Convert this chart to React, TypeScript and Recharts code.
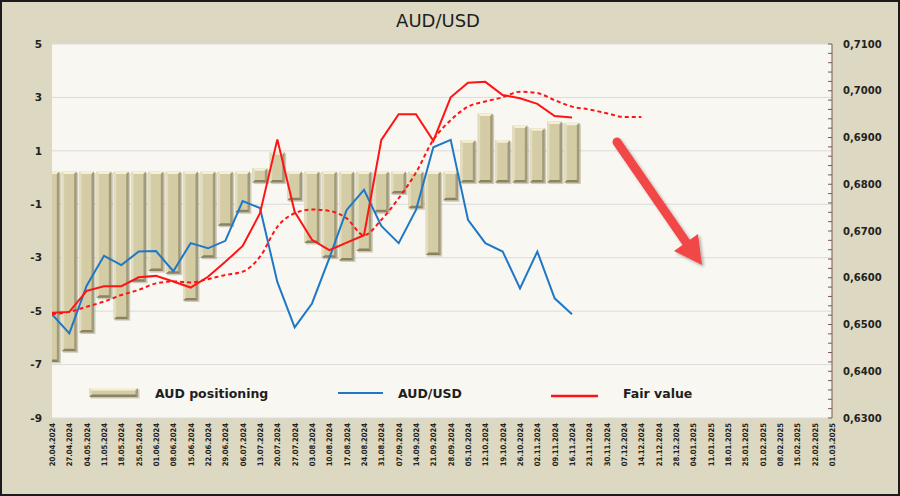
import { ComposedChart, Bar, Line, XAxis, YAxis, CartesianGrid } from 'recharts'

// weekly dates on the category axis
const dates = [
  '20.04.2024', '27.04.2024', '04.05.2024', '11.05.2024', '18.05.2024', '25.05.2024',
  '01.06.2024', '08.06.2024', '15.06.2024', '22.06.2024', '29.06.2024', '06.07.2024',
  '13.07.2024', '20.07.2024', '27.07.2024', '03.08.2024', '10.08.2024', '17.08.2024',
  '24.08.2024', '31.08.2024', '07.09.2024', '14.09.2024', '21.09.2024', '28.09.2024',
  '05.10.2024', '12.10.2024', '19.10.2024', '26.10.2024', '02.11.2024', '09.11.2024',
  '16.11.2024', '23.11.2024', '30.11.2024', '07.12.2024', '14.12.2024', '21.12.2024',
  '28.12.2024', '04.01.2025', '11.01.2025', '18.01.2025', '25.01.2025', '01.02.2025',
  '08.02.2025', '15.02.2025', '22.02.2025', '01.03.2025',
]

const positioning = [
  -6.9, -6.5, -5.8, -4.5, -5.3, -3.9, -3.5, -3.6, -4.6, -3.0, -1.8, -1.3, 0.35, 0.95, -0.85,
  -2.45, -3.0, -3.1, -2.75, -1.3, -0.6, -1.15, -2.9, -0.85, 1.4, 2.4, 1.4, 1.95, 1.85, 2.1, 2.05,
]

// value of the week before the first label (line enters from the left edge)
const audusdBefore = 0.6435
const audusd = [
  0.6522, 0.6481, 0.6583, 0.6647, 0.6627, 0.6656, 0.6657, 0.6614, 0.6674, 0.6663, 0.6679,
  0.6764, 0.6749, 0.6591, 0.6494, 0.6545, 0.6642, 0.6745, 0.6788, 0.6711, 0.6674, 0.6745,
  0.6879, 0.6895, 0.6724, 0.6674, 0.6656, 0.6577, 0.6656, 0.6556, 0.6522,
]

const fairValue = [
  0.6525, 0.6527, 0.6572, 0.6582, 0.6582, 0.6601, 0.6604, 0.6592, 0.6579, 0.6602, 0.6634,
  0.6668, 0.6738, 0.6896, 0.6741, 0.6681, 0.6659, 0.6675, 0.6691, 0.6895, 0.695, 0.695,
  0.6893, 0.6986, 0.7017, 0.7019, 0.6991, 0.6984, 0.6972, 0.6946, 0.6943,
]

const fairValueTrend = [
  0.6522, 0.6527, 0.6538, 0.6549, 0.6563, 0.6574, 0.6588, 0.6592, 0.659, 0.6597, 0.6606,
  0.6613, 0.6645, 0.6709, 0.6738, 0.6746, 0.6743, 0.6727, 0.6691, 0.6724, 0.677, 0.6825,
  0.6895, 0.6937, 0.6966, 0.6977, 0.6986, 0.6998, 0.6995, 0.698, 0.6966, 0.696, 0.6952,
  0.6944, 0.6944,
]

const leftTicks = [5, 3, 1, -1, -3, -5, -7, -9]
const rightMajor = [0.63, 0.64, 0.65, 0.66, 0.67, 0.68, 0.69, 0.7, 0.71]
// minor marks every 0.002 between the labelled ones
const rightTicks = rightMajor.flatMap((v, k) =>
  k === rightMajor.length - 1 ? [v] : [0, 1, 2, 3, 4].map((m) => +(v + m * 0.002).toFixed(3))
)

const rows = [
  { i: -1, audusd: audusdBefore },
  ...dates.map((d, i) => ({
    i,
    date: d,
    positioning: positioning[i] ?? null,
    audusd: audusd[i] ?? null,
    fair: fairValue[i] ?? null,
    trend: fairValueTrend[i] ?? null,
  })),
]

const FONT = "'DejaVu Sans', Verdana, sans-serif"
const BLUE = '#1f78c6'
const RED = '#ff1414'

function bevel(x: number, top: number, w: number, h: number) {
  const b = 2.5
  const bottom = top + h
  return (
    <g>
      <rect x={x + 1.5} y={top + 1.5} width={w} height={h} fill="rgba(70,62,30,0.25)" />
      <rect x={x} y={top} width={w} height={h} fill="#d3cca5" />
      <polygon points={`${x},${top} ${x + w},${top} ${x + w - b},${top + b} ${x + b},${top + b}`} fill="#f4efd5" />
      <polygon points={`${x + w},${top} ${x + w},${bottom} ${x + w - b},${bottom - b} ${x + w - b},${top + b}`} fill="#a39b78" />
      <polygon points={`${x},${bottom} ${x + w},${bottom} ${x + w - b},${bottom - b} ${x + b},${bottom - b}`} fill="#8a8263" />
      <polygon points={`${x},${top} ${x + b},${top + b} ${x + b},${bottom - b} ${x},${bottom}`} fill="#e3ddbd" />
    </g>
  )
}

const BevelBar = (props: any) => {
  const { x, y, width, height, payload } = props
  if (width == null || height == null || payload?.positioning == null) return null
  let top = Math.min(y, y + height)
  let bottom = Math.max(y, y + height)
  if (payload.positioning >= 0) bottom += 5
  else top -= 6
  return bevel(x, top, width, bottom - top)
}

const DateTick = ({ x, y, payload }: any) => (
  <text
    x={x}
    y={y}
    dy={3}
    transform={`rotate(-90 ${x} ${y})`}
    textAnchor="end"
    fontSize={7.6}
    fontWeight={700}
    fontFamily="'DejaVu Sans Condensed', 'DejaVu Sans', sans-serif"
    fill="#222"
  >
    {dates[payload.value]}
  </text>
)

const RightTick = ({ x, y, payload }: any) => {
  const v = payload.value as number
  const major = rightMajor.some((m) => Math.abs(m - v) < 1e-6)
  return (
    <g>
      <line x1={x - 15} x2={x - 11} y1={y} y2={y} stroke="#7d5656" />
      {major && (
        <text x={x} y={y} dy={3.5} fontSize={10} fontWeight={700} fill="#222">
          {v.toFixed(4).replace('.', ',')}
        </text>
      )}
    </g>
  )
}

export default function App() {
  return (
    <div
      style={{
        position: 'absolute',
        left: 0,
        top: 0,
        width: 900,
        height: 496,
        background: '#dcd8c1',
        fontFamily: FONT,
        overflow: 'hidden',
      }}
    >
      <ComposedChart width={900} height={496} data={rows} margin={{ top: 44, right: 0, bottom: 0, left: 0 }}>
        <CartesianGrid yAxisId="left" vertical={false} stroke="#dbdbdb" fill="#f8f7f2" />
        <XAxis
          dataKey="i"
          type="number"
          domain={[0, 45]}
          allowDataOverflow
          ticks={dates.map((_, i) => i)}
          interval={0}
          height={78}
          axisLine={false}
          tickLine={false}
          tickSize={0}
          tickMargin={5}
          tick={<DateTick />}
        />
        <YAxis
          yAxisId="left"
          domain={[-9, 5]}
          ticks={leftTicks}
          interval={0}
          width={52}
          axisLine={false}
          tickLine={false}
          tickSize={0}
          tickMargin={10}
          tick={{ fontSize: 10.5, fontWeight: 700, fill: '#222' }}
        />
        <YAxis
          yAxisId="right"
          orientation="right"
          domain={[0.63, 0.71]}
          ticks={rightTicks}
          interval={0}
          width={68}
          axisLine={{ stroke: '#7d5656' }}
          tickLine={false}
          tickSize={0}
          tickMargin={11}
          tick={<RightTick />}
        />
        <Bar yAxisId="left" dataKey="positioning" barSize={15} shape={<BevelBar />} isAnimationActive={false} />
        <Line yAxisId="right" dataKey="audusd" type="linear" stroke={BLUE} strokeWidth={2} dot={false} activeDot={false} isAnimationActive={false} />
        <Line yAxisId="right" dataKey="trend" type="monotone" stroke={RED} strokeWidth={2} strokeDasharray="4 3" dot={false} activeDot={false} isAnimationActive={false} />
        <Line yAxisId="right" dataKey="fair" type="linear" stroke={RED} strokeWidth={2} dot={false} activeDot={false} isAnimationActive={false} />
      </ComposedChart>

      {/* title */}
      <div style={{ position: 'absolute', left: 0, width: 876, top: 10, textAlign: 'center', fontSize: 18, color: '#1e1e1e' }}>
        AUD/USD
      </div>

      {/* legend */}
      <svg width={900} height={496} style={{ position: 'absolute', left: 0, top: 0, pointerEvents: 'none' }}>
        {bevel(89, 388, 49, 9)}
        <line x1={338} x2={383} y1={393} y2={393} stroke={BLUE} strokeWidth={2} />
        <line x1={551} x2={598} y1={396} y2={396} stroke={RED} strokeWidth={2.5} />
        <g fontSize={12.5} fontWeight={700} fill="#1e1e1e">
          <text x={155} y={398}>AUD positioning</text>
          <text x={398} y={398}>AUD/USD</text>
          <text x={623} y={398}>Fair value</text>
        </g>
        {/* annotation arrow */}
        <defs>
          <filter id="arrowShadow" x="-20%" y="-20%" width="140%" height="140%">
            <feDropShadow dx={2} dy={2} stdDeviation={1.5} floodColor="#000" floodOpacity={0.3} />
          </filter>
        </defs>
        <g filter="url(#arrowShadow)" fill="#f24747">
          <line x1={617} y1={142} x2={688} y2={245} stroke="#f24747" strokeWidth={9} strokeLinecap="round" />
          <polygon points="674,251 698,234 702,265" />
        </g>
      </svg>

      <div style={{ position: 'absolute', inset: 0, border: '2px solid #1b1b1b', pointerEvents: 'none' }} />
    </div>
  )
}
